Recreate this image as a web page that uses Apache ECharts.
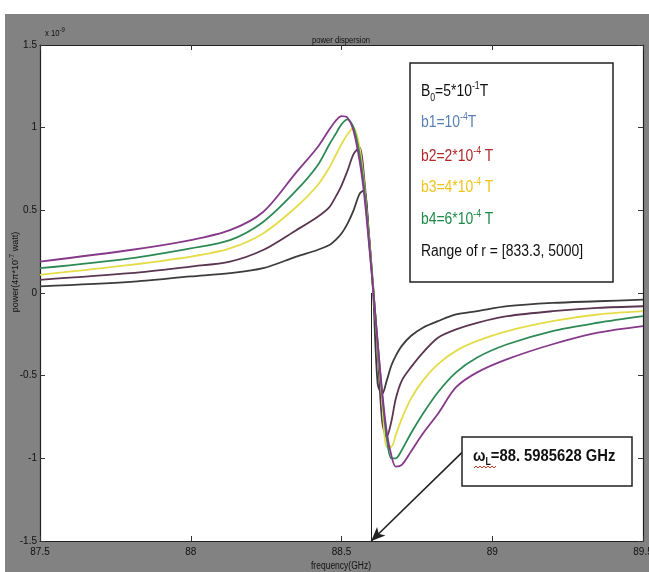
<!DOCTYPE html>
<html><head><meta charset="utf-8">
<script src="https://cdn.jsdelivr.net/npm/echarts@6/dist/echarts.min.js"></script>
<style>html,body{margin:0;padding:0;background:#fff}#c{width:649px;height:572px}</style>
</head><body><div id="c"></div><script>
// ---- data ----
const freq   = [87.5, 87.8, 88.0, 88.13, 88.24, 88.35, 88.42, 88.46, 88.48, 88.5, 88.52, 88.54, 88.56, 88.575, 88.59, 88.605, 88.62, 88.635, 88.65, 88.665, 88.68, 88.7, 88.73, 88.77, 88.82, 88.88, 88.95, 89.05, 89.2, 89.35, 89.5];
const gray   = [0.04,0.067,0.10,0.12,0.15,0.22,0.26,0.29,0.32,0.36,0.42,0.5,0.6,0.62,0.38,0.0,-0.55,-0.61,-0.53,-0.44,-0.38,-0.32,-0.26,-0.21,-0.17,-0.13,-0.11,-0.08,-0.06,-0.05,-0.04];
const brown  = [0.08,0.12,0.16,0.19,0.26,0.38,0.46,0.52,0.58,0.65,0.74,0.84,0.88,0.7,0.37,0.04,-0.35,-0.78,-0.87,-0.78,-0.64,-0.53,-0.45,-0.36,-0.27,-0.22,-0.18,-0.14,-0.11,-0.09,-0.08];
const yellow = [0.11,0.17,0.22,0.27,0.36,0.52,0.65,0.76,0.83,0.9,0.96,1.0,0.88,0.66,0.35,0.03,-0.32,-0.65,-0.93,-0.93,-0.86,-0.76,-0.64,-0.53,-0.43,-0.35,-0.29,-0.23,-0.17,-0.13,-0.11];
const green  = [0.15,0.21,0.27,0.32,0.43,0.62,0.77,0.9,0.96,1.02,1.05,1.0,0.84,0.64,0.34,0.03,-0.3,-0.62,-0.88,-1.0,-1.0,-0.95,-0.85,-0.73,-0.6,-0.48,-0.39,-0.31,-0.23,-0.18,-0.14];
const purple = [0.19,0.26,0.32,0.38,0.49,0.73,0.88,0.99,1.04,1.07,1.06,0.98,0.8,0.6,0.32,0.02,-0.3,-0.6,-0.84,-0.98,-1.05,-1.04,-0.96,-0.85,-0.73,-0.57,-0.48,-0.4,-0.31,-0.24,-0.2];
const omegaL = 88.5985628;
const arrowStart = [88.90, -0.964];

const FONT = "'Liberation Sans',Arial,sans-serif";
const chart = echarts.init(document.getElementById('c'), null, {renderer:'canvas'});

function mk(name, arr, color) {
  return {
    name, type:'line', data: freq.map((f,i)=>[f, arr[i]]),
    showSymbol:false, smooth:0.3,
    lineStyle:{color, width:1.8}, z:3
  };
}

const axisCommon = {
  type:'value', min:87.5, max:89.5, interval:0.5,
  axisLine:{show:true, onZero:false, lineStyle:{color:'#222', width:1.2}},
  axisTick:{show:true, inside:true, length:5, lineStyle:{color:'#333'}},
  splitLine:{show:false}
};
const yCommon = {
  type:'value', min:-1.5, max:1.5, interval:0.5,
  axisLine:{show:true, onZero:false, lineStyle:{color:'#222', width:1.2}},
  axisTick:{show:true, inside:true, length:5, lineStyle:{color:'#333'}},
  splitLine:{show:false}
};

const SX = 0.87;
function legendLine(y, rich, text) {
  return {type:'text', x:421, y, scaleX:SX, style:{text, rich, verticalAlign:'middle', align:'left'}, z:20};
}
function richFor(color, size) {
  return {
    a:{fontSize:size, fontFamily:FONT, fill:color, color, lineHeight:22, verticalAlign:'middle'},
    sup:{fontSize:Math.round(size*0.6), fontFamily:FONT, fill:color, color, lineHeight:12, verticalAlign:'top'},
    sub:{fontSize:Math.round(size*0.6), fontFamily:FONT, fill:color, color, lineHeight:12, verticalAlign:'bottom'}
  };
}
const LS = 16;

chart.setOption({
  animation:false,
  backgroundColor:'#ffffff',
  grid:{left:40, top:45, right:6, bottom:31, show:true, backgroundColor:'#ffffff', borderWidth:0, containLabel:false, outerBoundsMode:'none'},
  xAxis:[
    Object.assign({}, axisCommon, {position:'bottom',
      axisLabel:{show:true, margin:6, color:'#111', fontSize:10, fontFamily:FONT, showMaxLabel:true, showMinLabel:true,
        formatter:v=>String(v)}}),
    Object.assign({}, axisCommon, {position:'top', axisLabel:{show:false}})
  ],
  yAxis:[
    Object.assign({}, yCommon, {position:'left',
      axisLabel:{show:true, margin:3, color:'#111', fontSize:10, fontFamily:FONT, formatter:v=>String(v)}}),
    Object.assign({}, yCommon, {position:'right', axisLabel:{show:false}})
  ],
  series:[
    mk('b1', gray, '#3c3c3c'),
    mk('b2', brown, '#5a3650'),
    mk('b3', yellow, '#e4dc48'),
    mk('b4', green, '#2e8a55'),
    Object.assign(mk('b5', purple, '#86398a'), {
      markLine:{
        silent:true, animation:false, symbolSize:[0,0],
        label:{show:false},
        data:[
          [{coord:[omegaL,0], symbol:'none', lineStyle:{color:'#222', width:1, type:'solid'}},
           {coord:[omegaL,-1.5], symbol:'none'}],
          [{coord:arrowStart, symbol:'none', lineStyle:{color:'#222', width:1.6, type:'solid'}},
           {coord:[omegaL,-1.5], symbol:'arrow', symbolSize:[9,14]}]
        ]
      }
    })
  ],
  graphic:[
    {type:'rect', shape:{x:5, y:14, width:644, height:558}, style:{fill:'#828282'}, z:-20, silent:true},
    {type:'text', x:341, y:41, scaleX:0.85, style:{text:'power dispersion', fontSize:9, fontFamily:FONT, fill:'#111', align:'center', verticalAlign:'middle'}, z:20},
    {type:'text', x:45, y:34, scaleX:0.85, style:{text:'{a|x 10}{sup|-9}', rich:{
      a:{fontSize:9, fontFamily:FONT, fill:'#111', lineHeight:14},
      sup:{fontSize:7, fontFamily:FONT, fill:'#111', lineHeight:8, verticalAlign:'top'}}, verticalAlign:'middle'}, z:20},
    {type:'text', x:341, y:566, scaleX:0.85, style:{text:'frequency(GHz)', fontSize:10, fontFamily:FONT, fill:'#111', align:'center', verticalAlign:'middle'}, z:20},
    {type:'text', x:16, y:272, rotation:Math.PI/2, style:{text:'{a|power(4π*10}{sup|-7}{a| watt)}', rich:{
      a:{fontSize:9, fontFamily:FONT, fill:'#111', lineHeight:14},
      sup:{fontSize:7, fontFamily:FONT, fill:'#111', lineHeight:8, verticalAlign:'top'}}, align:'center', verticalAlign:'middle'}, z:20},
    // legend box
    {type:'rect', shape:{x:410, y:63, width:203, height:219}, style:{fill:'#fff', stroke:'#222', lineWidth:1.5}, z:15},
    legendLine(92, richFor('#111', LS), '{a|B}{sub|0}{a|=5*10}{sup|-1}{a|T}'),
    legendLine(123, richFor('#5a7fb5', LS), '{a|b1=10}{sup|-4}{a|T}'),
    legendLine(157, richFor('#b02a2a', LS), '{a|b2=2*10}{sup|-4}{a| T}'),
    legendLine(188, richFor('#f0c31c', LS), '{a|b3=4*10}{sup|-4}{a| T}'),
    legendLine(220, richFor('#1e8a48', LS), '{a|b4=6*10}{sup|-4}{a| T}'),
    legendLine(252, richFor('#111', LS), '{a|Range of r = [833.3, 5000]}'),
    // annotation box
    {type:'rect', shape:{x:462, y:437, width:170, height:49}, style:{fill:'#fff', stroke:'#222', lineWidth:1.5}, z:15},
    {type:'text', x:473, y:456, scaleX:0.87, style:{text:'{a|ω}{sub|L}{a|=88. 5985628 GHz}', rich:{
      a:{fontSize:17, fontWeight:'bold', fontFamily:FONT, fill:'#111', lineHeight:22},
      sub:{fontSize:10, fontWeight:'bold', fontFamily:FONT, fill:'#111', lineHeight:12, verticalAlign:'bottom'}}, verticalAlign:'middle'}, z:20},
    {type:'polyline', shape:{points:[[474,468],[476,466],[478,468],[480,466],[482,468],[484,466],[486,468],[488,466],[490,468],[492,466],[494,468],[496,466]]},
      style:{stroke:'#c0392b', lineWidth:1, fill:null}, z:20}
  ]
});
</script></body></html>
